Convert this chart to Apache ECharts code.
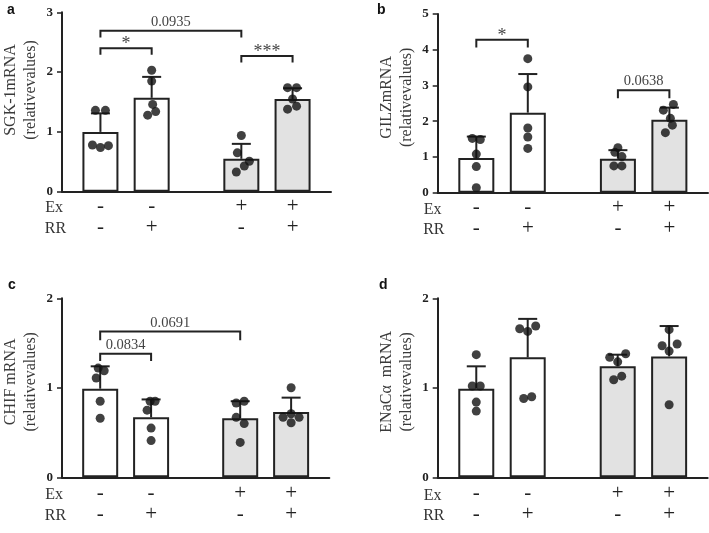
<!DOCTYPE html>
<html><head><meta charset="utf-8">
<script src="https://cdn.jsdelivr.net/npm/echarts@6/dist/echarts.min.js"></script>
<style>html,body{margin:0;padding:0;background:#fff}#c{width:709px;height:533px}</style>
</head><body><div id="c"></div>
<script>
// ---------------- data ----------------
const exSigns = ['-', '-', '+', '+'];
const rrSigns = ['-', '+', '-', '+'];

// a) SGK-1 mRNA
const sgkMean = [1.00, 1.57, 0.55, 1.55];
const sgkSD = [0.31, 0.35, 0.25, 0.18];
const sgkPoints = [
  [1.36, 1.36, 0.78, 0.74, 0.77],
  [2.03, 1.85, 1.46, 1.34, 1.28],
  [0.94, 0.65, 0.51, 0.43, 0.33],
  [1.74, 1.74, 1.55, 1.38, 1.43]
];
const sgkStats = [[0, 2, 2.69, 2.58, '0.0935'], [0, 1, 2.40, 2.29, '*'], [2, 3, 2.27, 2.16, '***']];

// b) GILZ mRNA
const gilzMean = [0.97, 2.24, 0.95, 2.04];
const gilzSD = [0.60, 1.08, 0.24, 0.34];
const gilzPoints = [
  [1.52, 1.49, 1.08, 0.73, 0.14],
  [3.75, 2.96, 1.81, 1.56, 1.24],
  [1.26, 1.13, 1.01, 0.75, 0.75],
  [2.47, 2.31, 2.08, 1.89, 1.68]
];
const gilzStats = [[0, 1, 4.28, 4.06, '*'], [2, 3, 2.87, 2.64, '0.0638']];

// c) CHIF mRNA
const chifMean = [0.99, 0.67, 0.66, 0.73];
const chifSD = [0.25, 0.20, 0.19, 0.16];
const chifPoints = [
  [1.22, 1.19, 1.11, 0.85, 0.66],
  [0.85, 0.85, 0.75, 0.55, 0.41],
  [0.83, 0.85, 0.67, 0.60, 0.39],
  [1.00, 0.67, 0.71, 0.67, 0.61]
];
const chifStats = [[0, 2, 1.63, 1.53, '0.0691'], [0, 1, 1.38, 1.30, '0.0834']];

// d) ENaCα mRNA
const enacMean = [0.99, 1.34, 1.24, 1.35];
const enacSD = [0.25, 0.43, 0.13, 0.34];
const enacPoints = [
  [1.37, 1.02, 1.02, 0.84, 0.74],
  [1.66, 1.63, 1.69, 0.88, 0.90],
  [1.34, 1.38, 1.29, 1.09, 1.13],
  [1.65, 1.47, 1.49, 1.41, 0.81]
];
const enacStats = [];

// ---------------- layout / style ----------------
const xPos = [0.75, 1.75, 3.5, 4.5];
const xMax = 5.25;
const BAR_W = 36;
const SERIF = "'Liberation Serif','Times New Roman',serif";
const SANS = "'Liberation Sans',Arial,sans-serif";
const INK = '#222';

// horizontal scatter of the dots inside each bar (pixels)
const sgkJit = [[-5, 5, -8, 0, 8], [0, 0, 1, 4, -4], [0, -4, 8, 3, -5], [-5, 4, 0, -5, 4]];
const gilzJit = [[-4, 4, 0, 0, 0], [0, 0, 0, 0, 0], [0, -3, 4, -4, 4], [4, -6, 1, 3, -4]];
const chifJit = [[-2, 4, -4, 0, 0], [-1, 4, -4, 0, 0], [-4, 4, -4, 4, 0], [0, -8, 0, 8, 0]];
const enacJit = [[0, -4, 4, 0, 0], [-8, 0, 8, -4, 4], [-8, 8, 0, -4, 4], [0, -7, 8, 0, 0]];

const panels = [
  { tag: 'a', name: 'SGK-1mRNA\n(relativevalues)', mean: sgkMean, sd: sgkSD, pts: sgkPoints, jit: sgkJit, stats: sgkStats, yMax: 3,
    grid: { left: 59.3, top: 12.3, width: 271.7, height: 179.4 }, lm: 4, namePad: 24, tagPos: [7, 10], rows: [16.3, 37] },
  { tag: 'b', name: 'GILZmRNA\n(relativevalues)', mean: gilzMean, sd: gilzSD, pts: gilzPoints, jit: gilzJit, stats: gilzStats, yMax: 5,
    grid: { left: 437.7, top: 14, width: 270.3, height: 178.7 }, lm: 4.5, namePad: 12, tagPos: [377, 10], rows: [17.3, 37.5] },
  { tag: 'c', name: 'CHIF mRNA\n(relativevalues)', mean: chifMean, sd: chifSD, pts: chifPoints, jit: chifJit, stats: chifStats, yMax: 2,
    grid: { left: 59.3, top: 298.3, width: 270, height: 179 }, lm: 5.5, namePad: 12, tagPos: [8, 285], rows: [17.7, 38.7] },
  { tag: 'd', name: 'ENaCα  mRNA\n(relativevalues)', mean: enacMean, sd: enacSD, pts: enacPoints, jit: enacJit, stats: enacStats, yMax: 2,
    grid: { left: 437.7, top: 298.3, width: 270, height: 179 }, lm: 5.5, namePad: 12, tagPos: [379, 285], rows: [18, 38.7] }
];

const grids = [], xAxes = [], yAxes = [], series = [], graphics = [];

panels.forEach((p, k) => {
  grids.push(Object.assign({ containLabel: false }, p.grid));
  xAxes.push({
    type: 'value', gridIndex: k, min: 0, max: xMax,
    axisLine: { show: true, lineStyle: { color: INK, width: 2 } },
    axisTick: { show: false }, splitLine: { show: false },
    axisLabel: {
      customValues: xPos, margin: p.lm,
      formatter: v => {
        const i = xPos.findIndex(x => Math.abs(x - v) < 1e-6);
        return i < 0 ? '' : '{s|' + exSigns[i] + '}\n{s|' + rrSigns[i] + '}';
      },
      rich: { s: { fontFamily: SERIF, fontSize: 21, lineHeight: 21, color: INK } }
    }
  });
  yAxes.push({
    type: 'value', gridIndex: k, min: 0, max: p.yMax, interval: 1,
    axisLine: { show: true, lineStyle: { color: INK, width: 2 } },
    axisTick: { show: true, length: 5, lineStyle: { color: INK, width: 1.5 } },
    splitLine: { show: false },
    axisLabel: { fontFamily: SERIF, fontWeight: 'bold', fontSize: 13, color: INK, margin: 9 },
    name: p.name, nameLocation: 'middle', nameRotate: 90, nameGap: 21,
    nameTextStyle: { fontFamily: SERIF, fontSize: 16, lineHeight: 20, color: '#3a3a3a', padding: [0, 0, 0, p.namePad] }
  });

  // bars
  series.push({
    type: 'bar', xAxisIndex: k, yAxisIndex: k, barWidth: BAR_W, z: 2, silent: true,
    data: p.mean.map((m, i) => ({
      value: [xPos[i], m],
      itemStyle: { color: exSigns[i] === '+' ? '#e2e2e2' : '#ffffff', borderColor: INK, borderWidth: 2 }
    }))
  });

  // error bars (mean -> mean + SD)
  series.push({
    type: 'custom', xAxisIndex: k, yAxisIndex: k, z: 3, silent: true,
    data: p.mean.map((m, i) => [xPos[i], m, m + p.sd[i]]),
    encode: { x: 0, y: [1, 2] },
    renderItem: (params, api) => {
      const a = api.coord([api.value(0), api.value(1)]);
      const b = api.coord([api.value(0), api.value(2)]);
      const st = { stroke: INK, lineWidth: 2 };
      return { type: 'group', children: [
        { type: 'line', shape: { x1: a[0], y1: a[1], x2: b[0], y2: b[1] }, style: st },
        { type: 'line', shape: { x1: b[0] - 9.5, y1: b[1], x2: b[0] + 9.5, y2: b[1] }, style: st }
      ] };
    }
  });

  // individual points
  const dots = [];
  p.pts.forEach((arr, i) => arr.forEach((v, j) => dots.push({ value: [xPos[i], v], symbolOffset: [p.jit[i][j], 0] })));
  series.push({
    type: 'scatter', xAxisIndex: k, yAxisIndex: k, z: 4, silent: true,
    symbol: 'circle', symbolSize: 9, itemStyle: { color: '#111' }, data: dots
  });

  // significance brackets
  if (p.stats.length) {
    series.push({
      type: 'custom', xAxisIndex: k, yAxisIndex: k, z: 5, silent: true, clip: false,
      data: p.stats.map(s => [xPos[s[0]], xPos[s[1]], s[2], s[3]]),
      encode: { x: [0, 1], y: [2, 3] },
      renderItem: (params, api) => {
        const lab = p.stats[params.dataIndex][4];
        const l0 = api.coord([api.value(0), api.value(3)]);
        const l1 = api.coord([api.value(0), api.value(2)]);
        const r1 = api.coord([api.value(1), api.value(2)]);
        const r0 = api.coord([api.value(1), api.value(3)]);
        const star = lab.indexOf('*') >= 0;
        return { type: 'group', children: [
          { type: 'polyline', shape: { points: [l0, l1, r1, r0] }, style: { stroke: INK, lineWidth: 2, fill: null } },
          { type: 'text', x: (l1[0] + r1[0]) / 2, y: star ? l1[1] - 3.5 : l1[1] - 1,
            style: { text: lab, fontFamily: SERIF, fontSize: star ? 18 : 14.5, fill: '#444',
                     align: 'center', verticalAlign: star ? 'middle' : 'bottom' } }
        ] };
      }
    });
  }

  // panel tag and row captions
  graphics.push({ type: 'text', x: p.tagPos[0], y: p.tagPos[1],
    style: { text: p.tag, fontFamily: SANS, fontWeight: 'bold', fontSize: 14, fill: '#111', verticalAlign: 'middle' } });
  const y0 = p.grid.top + p.grid.height;
  graphics.push({ type: 'text', x: p.grid.left - 14, y: y0 + p.rows[0],
    style: { text: 'Ex', fontFamily: SERIF, fontSize: 16, fill: '#333', verticalAlign: 'middle' } });
  graphics.push({ type: 'text', x: p.grid.left - 14.5, y: y0 + p.rows[1],
    style: { text: 'RR', fontFamily: SERIF, fontSize: 16, fill: '#333', verticalAlign: 'middle' } });
});

const chart = echarts.init(document.getElementById('c'), null, { renderer: 'canvas' });
chart.setOption({
  animation: false, backgroundColor: '#fff',
  grid: grids, xAxis: xAxes, yAxis: yAxes, series: series, graphic: graphics
});
</script></body></html>
